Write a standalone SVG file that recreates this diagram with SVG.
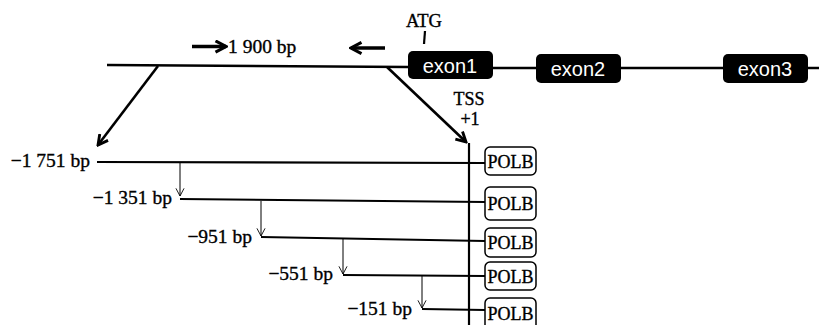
<svg xmlns="http://www.w3.org/2000/svg" width="819" height="325" viewBox="0 0 819 325">
<style>
.t{font-family:"Liberation Serif","Times New Roman",serif;font-size:19.5px;fill:#000;stroke:#000;stroke-width:0.35}
.s{font-size:18px}
.ex{font-family:"Liberation Sans",Arial,sans-serif;font-size:20px;fill:#fff;text-anchor:middle}
.exbox{fill:#000}
.polb{fill:#fff;stroke:#000;stroke-width:1.5}
.thick{stroke:#000;stroke-width:2.5;fill:none}
.mid{stroke:#000;stroke-width:2.2;fill:none}
.diag{stroke:#000;stroke-width:2.6;fill:none}
.thin{stroke:#000;stroke-width:1;fill:none}
</style>
<defs>
<marker id="big" viewBox="0 0 10 10" refX="8.5" refY="5" markerWidth="5" markerHeight="5" orient="auto" markerUnits="strokeWidth">
<path d="M1,1 L8.5,5 L1,9" fill="none" stroke="#000" stroke-width="2.2"/>
</marker>
<marker id="small" viewBox="0 0 10 10" refX="9.5" refY="5" markerWidth="9" markerHeight="10" orient="auto" markerUnits="userSpaceOnUse">
<path d="M1,0.5 L9.5,5 L1,9.5" fill="none" stroke="#000" stroke-width="1"/>
</marker>
<marker id="head" viewBox="0 0 10 10" refX="8.5" refY="5" markerWidth="4" markerHeight="4" orient="auto" markerUnits="strokeWidth">
<path d="M1,1 L8.5,5 L1,9" fill="none" stroke="#000" stroke-width="2.2"/>
</marker>
</defs>
<g id="connectors">
<path class="thick" d="M107,65 L408,67"/>
<path class="thick" d="M493,68 L536,68"/>
<path class="thick" d="M621,68 L723,68"/>
<path class="thick" d="M808,68 L819,68"/>
<line class="mid" x1="425" y1="31" x2="424" y2="44"/>
<line class="diag" x1="192" y1="46.5" x2="226" y2="46.5" style="stroke-width:3.5" marker-end="url(#head)"/>
<line class="diag" x1="385" y1="48" x2="351" y2="48" style="stroke-width:3.5" marker-end="url(#head)"/>
<line class="diag" x1="158" y1="66" x2="98" y2="145" marker-end="url(#big)"/>
<line class="diag" x1="387" y1="67" x2="466" y2="142" marker-end="url(#big)"/>
<line class="mid" x1="469" y1="143" x2="469" y2="325"/>
<path class="mid" d="M97,162 L485,163"/>
<path class="mid" d="M180,199 L485,202"/>
<path class="mid" d="M261,237 L485,241"/>
<path class="mid" d="M343,275 L485,276"/>
<path class="mid" d="M422,309 L485,310"/>
<line class="thin" x1="180" y1="163" x2="180" y2="196" marker-end="url(#small)"/>
<line class="thin" x1="261" y1="201" x2="261" y2="236" marker-end="url(#small)"/>
<line class="thin" x1="343" y1="239" x2="343" y2="274" marker-end="url(#small)"/>
<line class="thin" x1="422" y1="276" x2="422" y2="308" marker-end="url(#small)"/>
</g>
<g id="labels">
<text class="t" x="228" y="53">1 900 bp</text>
<text class="t s" x="424" y="27" text-anchor="middle" style="font-size:18.5px">ATG</text>
<text class="t s" x="469" y="105" text-anchor="middle">TSS</text>
<text class="t s" x="470" y="125" text-anchor="middle">+1</text>
<text class="t" x="90" y="167" text-anchor="end">−1 751 bp</text>
<text class="t" x="172" y="204" text-anchor="end">−1 351 bp</text>
<text class="t" x="252" y="243" text-anchor="end">−951 bp</text>
<text class="t" x="333" y="280" text-anchor="end">−551 bp</text>
<text class="t" x="412" y="315" text-anchor="end">−151 bp</text>
</g>
<g id="exon1"><rect class="exbox" x="408" y="51" width="85" height="28" rx="5"/><text class="ex" x="450" y="73">exon1</text></g>
<g id="exon2"><rect class="exbox" x="536" y="54" width="85" height="29" rx="5"/><text class="ex" x="578" y="76">exon2</text></g>
<g id="exon3"><rect class="exbox" x="723" y="54" width="85" height="29" rx="5"/><text class="ex" x="765" y="76">exon3</text></g>
<g id="polb1"><rect class="polb" x="485" y="147" width="51" height="28" rx="5"/><text class="t" x="510.5" y="168" text-anchor="middle" style="font-size:18px">POLB</text></g>
<g id="polb2"><rect class="polb" x="485" y="187" width="51" height="33" rx="5"/><text class="t" x="510.5" y="210" text-anchor="middle" style="font-size:18px">POLB</text></g>
<g id="polb3"><rect class="polb" x="485" y="228" width="51" height="29" rx="5"/><text class="t" x="510.5" y="249" text-anchor="middle" style="font-size:18px">POLB</text></g>
<g id="polb4"><rect class="polb" x="485" y="262" width="51" height="28" rx="5"/><text class="t" x="510.5" y="283" text-anchor="middle" style="font-size:18px">POLB</text></g>
<g id="polb5"><rect class="polb" x="485" y="298" width="51" height="32" rx="5"/><text class="t" x="510.5" y="320" text-anchor="middle" style="font-size:18px">POLB</text></g>
</svg>
